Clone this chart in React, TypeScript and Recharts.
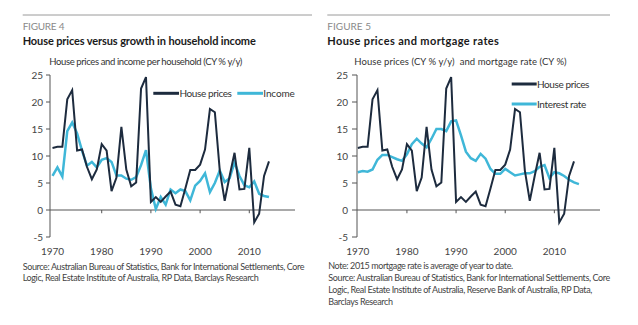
import React from "react";
import { LineChart, Line, XAxis, YAxis, ReferenceLine, Legend } from "recharts";

const years = [
  1970, 1971, 1972, 1973, 1974, 1975, 1976, 1977, 1978, 1979,
  1980, 1981, 1982, 1983, 1984, 1985, 1986, 1987, 1988, 1989,
  1990, 1991, 1992, 1993, 1994, 1995, 1996, 1997, 1998, 1999,
  2000, 2001, 2002, 2003, 2004, 2005, 2006, 2007, 2008, 2009,
  2010, 2011, 2012, 2013, 2014, 2015,
];

const housePrices = [
  11.5, 11.7, 11.7, 20.5, 22.2, 11.0, 11.2, 8.0, 5.7, 7.5,
  12.2, 11.0, 3.5, 6.0, 15.4, 7.5, 4.4, 5.1, 22.5, 24.6,
  1.5, 2.4, 1.5, 2.5, 3.4, 1.0, 0.7, 4.0, 7.4, 7.4,
  8.4, 11.2, 18.7, 18.1, 7.3, 1.7, 6.3, 10.6, 3.8, 3.9,
  11.5, -2.3, -0.7, 6.3, 9.0, null,
];

const income = [
  6.3, 7.9, 6.2, 14.6, 16.2, 14.2, 11.0, 8.2, 8.9, 7.9,
  9.3, 9.6, 8.9, 6.4, 6.4, 5.8, 5.6, 6.1, 8.3, 11.1,
  4.0, 0.2, 2.4, 1.0, 3.8, 3.1, 3.8, 3.5, 1.8, 4.5,
  5.4, 6.8, 3.3, 5.0, 7.3, 5.2, 5.9, 8.8, 6.3, 4.6,
  4.2, 5.3, 3.0, 2.6, 2.4, null,
];

const interestRate = [
  7.0, 7.2, 7.1, 7.5, 9.3, 10.2, 10.2, 9.8, 9.4, 9.1,
  10.3, 12.2, 13.2, 12.3, 11.6, 13.2, 15.0, 15.0, 14.6, 16.4,
  16.6, 13.8, 10.8, 9.6, 9.1, 10.4, 9.5, 7.6, 6.7, 6.7,
  7.6, 7.0, 6.4, 6.6, 6.8, 6.8, 7.2, 8.0, 8.3, 5.9,
  7.0, 6.8, 6.3, 5.6, 5.1, 4.8,
];

const xTicks = [1970, 1980, 1990, 2000, 2010];
const yTicks = [-5, 0, 5, 10, 15, 20, 25];

const leftData = years.map((y, i) => ({ year: y, house: housePrices[i], income: income[i] }));
const rightData = years.map((y, i) => ({ year: y, house: housePrices[i], rate: interestRate[i] }));

const DARK = "#1d2b3e";
const CYAN = "#3fb7d8";
const AXIS = "#555";
const FONT = "Lato, 'Open Sans', sans-serif";

const tickStyle = { fontSize: 10, fill: "#444", fontFamily: FONT };

let ctx: CanvasRenderingContext2D | null = null;
function fit(text: string, weight: string, base: number, target: number) {
  if (!ctx && typeof document !== "undefined") {
    ctx = document.createElement("canvas").getContext("2d");
  }
  if (!ctx) return { size: base, ls: 0 };
  ctx.font = `${weight} ${base}px ${FONT}`;
  const w = ctx.measureText(text).width;
  if (!w) return { size: base, ls: 0 };
  const n = text.length;
  let ls = (target - w) / n;
  let size = base;
  if (ls < -0.5) {
    ls = -0.5;
    size = (base * (target + 0.5 * n)) / w;
  } else if (ls > 0.5) {
    ls = 0.5;
  }
  return { size, ls };
}

const FitText = ({ x, y, text, width, size, weight = "normal", fill = "#333" }: any) => {
  const f = fit(text, weight, size, width);
  return (
    <text
      x={x}
      y={y}
      fontSize={f.size}
      letterSpacing={f.ls}
      fontWeight={weight}
      fill={fill}
      fontFamily={FONT}
      style={{ whiteSpace: "pre" }}
    >
      {text}
    </text>
  );
};

const LeftLegend = () => (
  <svg width={150} height={16} style={{ display: "block" }}>
    <line x1={3.3} x2={29} y1={8.3} y2={8.3} stroke={DARK} strokeWidth={3} />
    <FitText x={29.5} y={11.8} text="House prices" width={52} size={10} />
    <line x1={87.3} x2={113} y1={8.3} y2={8.3} stroke={CYAN} strokeWidth={3} />
    <FitText x={113.3} y={11.8} text="Income" width={31.4} size={10} />
  </svg>
);

const RightLegend = () => (
  <svg width={90} height={36} style={{ display: "block" }}>
    <line x1={3.7} x2={28.7} y1={8} y2={8} stroke={DARK} strokeWidth={3} />
    <FitText x={29} y={11.5} text="House prices" width={52} size={10} />
    <line x1={3.7} x2={28.7} y1={28} y2={28} stroke={CYAN} strokeWidth={3} />
    <FitText x={29} y={31.5} text="Interest rate" width={49} size={10} />
  </svg>
);

export default function App() {
  return (
    <div style={{ position: "absolute", left: 0, top: 0, width: 638, height: 325, background: "#fff", overflow: "hidden" }}>
      <svg width={638} height={325} style={{ position: "absolute", left: 0, top: 0 }}>
        <line x1={22.7} x2={312} y1={15} y2={15} stroke="#9a9a9a" strokeWidth={1} />
        <line x1={327.3} x2={610} y1={15} y2={15} stroke="#9a9a9a" strokeWidth={1} />
        <FitText x={22.7} y={29.5} text="FIGURE 4" width={41.6} size={10} fill="#8a8a8a" />
        <FitText x={22.7} y={45.3} text="House prices versus growth in household income" width={233.3} size={11} weight="bold" fill="#1a1a1a" />
        <FitText x={49.3} y={64.8} text="House prices and income per household (CY % y/y)" width={193.4} size={9.5} fill="#333" />
        <FitText x={327.3} y={29.5} text="FIGURE 5" width={43.7} size={10} fill="#8a8a8a" />
        <FitText x={327.3} y={45.3} text="House prices and mortgage rates" width={172} size={11} weight="bold" fill="#1a1a1a" />
        <FitText x={354.3} y={64.8} text="House prices (CY % y/y)  and mortgage rate (CY %)" width={213.4} size={9.5} fill="#333" />
        <FitText x={22.7} y={269.9} text="Source: Australian Bureau of Statistics, Bank for International Settlements, Core" width={282.3} size={9} fill="#444" />
        <FitText x={22.7} y={281.2} text="Logic, Real Estate Institute of Australia, RP Data, Barclays Research" width={236.6} size={9} fill="#444" />
        <FitText x={328.3} y={269.2} text="Note: 2015 mortgage rate is average of year to date." width={185} size={9} fill="#444" />
        <FitText x={328.3} y={280.9} text="Source: Australian Bureau of Statistics, Bank for International Settlements, Core" width={282.4} size={9} fill="#444" />
        <FitText x={328.3} y={293.2} text="Logic, Real Estate Institute of Australia, Reserve Bank of Australia, RP Data," width={265} size={9} fill="#444" />
        <FitText x={328.3} y={304.9} text="Barclays Research" width={64.4} size={9} fill="#444" />
      </svg>

      <LineChart
        width={320}
        height={200}
        data={leftData}
        margin={{ top: 15, right: 25, left: 20, bottom: 3 }}
        style={{ position: "absolute", left: 0, top: 60 }}
      >
        <XAxis
          dataKey="year"
          type="number"
          domain={[1969.49, 2019.29]}
          allowDataOverflow
          ticks={xTicks}
          interval={0}
          axisLine={false}
          tickLine={false}
          tickSize={0}
          tickMargin={11}
          height={20}
          tick={tickStyle}
        />
        <YAxis
          domain={[-5, 25]}
          ticks={yTicks}
          interval={0}
          width={30}
          axisLine={{ stroke: AXIS }}
          tickLine={{ stroke: AXIS }}
          tickSize={4}
          tickMargin={3}
          tick={tickStyle}
        />
        <ReferenceLine y={0} stroke={AXIS} strokeWidth={1} />
        {xTicks.slice(1).map((t) => (
          <ReferenceLine key={t} segment={[{ x: t, y: 0 }, { x: t, y: -0.6 }]} stroke={AXIS} strokeWidth={1} />
        ))}
        <Line type="linear" dataKey="income" stroke={CYAN} strokeWidth={2.5} dot={false} isAnimationActive={false} />
        <Line type="linear" dataKey="house" stroke={DARK} strokeWidth={2} dot={false} isAnimationActive={false} />
        <Legend
          layout="horizontal"
          verticalAlign="middle"
          align="center"
          wrapperStyle={{ left: 150, top: 25, width: 150, height: 16 }}
          content={() => <LeftLegend />}
        />
      </LineChart>

      <LineChart
        width={318}
        height={200}
        data={rightData}
        margin={{ top: 15, right: 38, left: 7, bottom: 3 }}
        style={{ position: "absolute", left: 320, top: 60 }}
      >
        <XAxis
          dataKey="year"
          type="number"
          domain={[1969.84, 2019.29]}
          allowDataOverflow
          ticks={xTicks}
          interval={0}
          axisLine={false}
          tickLine={false}
          tickSize={0}
          tickMargin={11}
          height={20}
          tick={tickStyle}
        />
        <YAxis
          domain={[-5, 25]}
          ticks={yTicks}
          interval={0}
          width={30}
          axisLine={{ stroke: AXIS }}
          tickLine={{ stroke: AXIS }}
          tickSize={5}
          tickMargin={4}
          tick={tickStyle}
        />
        <ReferenceLine y={0} stroke={AXIS} strokeWidth={1} />
        {xTicks.slice(1).map((t) => (
          <ReferenceLine key={t} segment={[{ x: t, y: 0 }, { x: t, y: -0.6 }]} stroke={AXIS} strokeWidth={1} />
        ))}
        <Line type="linear" dataKey="rate" stroke={CYAN} strokeWidth={2.5} dot={false} isAnimationActive={false} />
        <Line type="linear" dataKey="house" stroke={DARK} strokeWidth={2} dot={false} isAnimationActive={false} />
        <Legend
          layout="horizontal"
          verticalAlign="middle"
          align="center"
          wrapperStyle={{ left: 188, top: 16, width: 90, height: 36 }}
          content={() => <RightLegend />}
        />
      </LineChart>
    </div>
  );
}
